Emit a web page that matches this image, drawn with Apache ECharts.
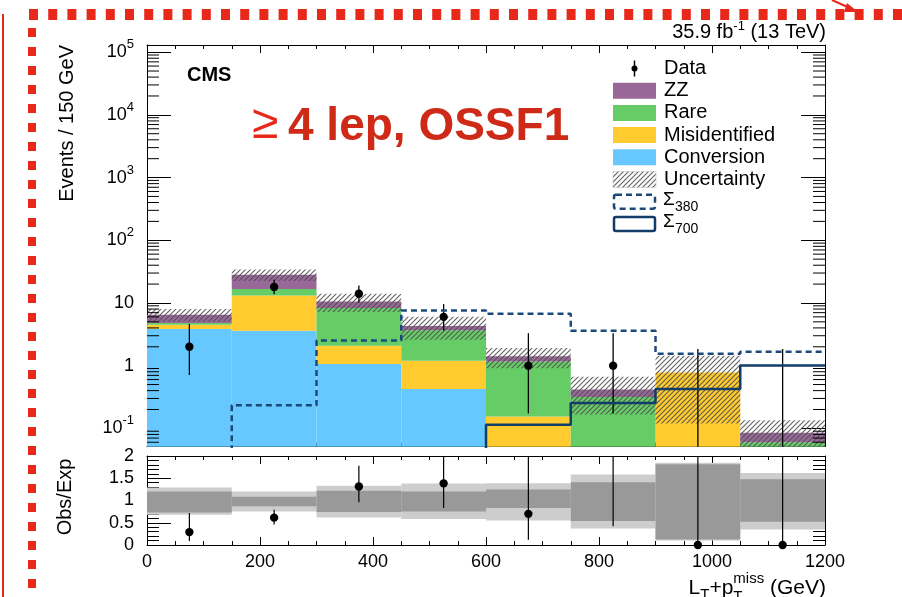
<!DOCTYPE html>
<html><head><meta charset="utf-8">
<script src="https://cdn.jsdelivr.net/npm/echarts@6/dist/echarts.min.js"></script>
<style>html,body{margin:0;padding:0;background:#fff}#c{width:902px;height:597px}</style>
</head><body><div id="c"></div>
<script>
// ---------------- data ----------------
const binEdges = [0, 150, 300, 450, 600, 750, 900, 1050, 1200];
const binCenters = [75, 225, 375, 525, 675, 825, 975, 1125];
const conversion    = [3.85, 3.6, 1.06, 0.425, 0, 0, 0, 0];
const misidentified = [0.65, 9.5, 1.02, 0.775, 0.154, 0, 0.78, 0];
const rare          = [0.3, 3.6, 6.2, 2.46, 1.016, 0.316, 0, 0.06];
const zz            = [1.7, 11.6, 2.3, 0.64, 0.24, 0.1, 0, 0.025];
const uncertainty   = [1.5, 6.0, 3.4, 1.7, 0.5, 0.25, 0.66, 0.05];
const sigma380      = [0, 0.233, 2.53, 7.6, 6.7, 3.6, 1.55, 1.67];
const sigma700      = [0, 0, 0, 0, 0.114, 0.254, 0.425, 1.01];
const dataObs       = [2, 18, 14, 6, 1, 1, 0, 0];
const dataErrLow    = [0.71, 13.8, 10.2, 3.62, 0.173, 0.173, 0, 0];
const dataErrHigh   = [4.64, 23.4, 18.9, 9.58, 3.30, 3.30, 1.84, 1.84];
const ratioObs      = [0.29, 0.615, 1.315, 1.385, 0.70, 2.42, 0, 0];
const ratioErrLow   = [0.09, 0.46, 0.96, 0.83, 0.12, 0.42, 0, 0];
const ratioErrHigh  = [0.72, 0.79, 1.78, 2.2, 2.35, 3.8, 2.36, 21];
const bandLightLow  = [0.68, 0.754, 0.62, 0.585, 0.55, 0.37, 0.10, 0.35];
const bandLightHigh = [1.29, 1.20, 1.33, 1.38, 1.39, 1.585, 1.85, 1.62];
const bandDarkLow   = [0.73, 0.87, 0.74, 0.754, 0.83, 0.54, 0.123, 0.52];
const bandDarkHigh  = [1.20, 1.085, 1.22, 1.20, 1.25, 1.41, 1.815, 1.48];
const xTickValues = [0, 200, 400, 600, 800, 1000, 1200];
const ratioTickLabels = ['0', '0.5', '1', '1.5', '2'];
const legendNames = ['Data', 'ZZ', 'Rare', 'Misidentified', 'Conversion', 'Uncertainty', 'Σ380', 'Σ700'];

// ---------------- styling ----------------
const FONT = '"Liberation Sans", Arial, Helvetica, sans-serif';
const C_ZZ = '#986898', C_RARE = '#66cc66', C_MIS = '#ffcb2f', C_CONV = '#66c8ff';
const C_SIG = '#1b4a7a';
const RED = '#e8281a';
const yMin = 0.051, yMax = 130000;
const clampY = v => Math.min(Math.max(v, yMin), yMax);
const clampR = v => Math.min(Math.max(v, 0), 2);

// hatch pattern
const pc = document.createElement('canvas');
pc.width = 5; pc.height = 5;
const g = pc.getContext('2d');
g.strokeStyle = 'rgba(80,80,80,0.9)'; g.lineWidth = 1.1;
g.beginPath();
g.moveTo(-1, 6); g.lineTo(6, -1);
g.moveTo(-3, 3); g.lineTo(3, -3);
g.moveTo(2, 8); g.lineTo(8, 2);
g.stroke();
const hatch = { image: pc, repeat: 'repeat' };

const chart = echarts.init(document.getElementById('c'), null, { renderer: 'canvas' });

function cumulative(layers, i) { return layers.reduce((s, a) => s + a[i], 0); }

function stackSeries(name, values, below, color) {
  const data = values.map((v, i) => {
    const lo = cumulative(below, i);
    return [binEdges[i], binEdges[i + 1], clampY(lo), clampY(lo + v)];
  });
  return {
    type: 'custom', name, xAxisIndex: 0, yAxisIndex: 0, data, silent: true,
    encode: { x: [0, 1], y: [2, 3] },
    renderItem(params, api) {
      const lo = api.value(2), hi = api.value(3);
      if (!(hi > lo)) return null;
      const p0 = api.coord([api.value(0), lo]);
      const p1 = api.coord([api.value(1), hi]);
      return { type: 'rect', shape: { x: p0[0], y: p1[1], width: p1[0] - p0[0], height: p0[1] - p1[1] },
        style: { fill: color } };
    }
  };
}

const totals = binCenters.map((_, i) => conversion[i] + misidentified[i] + rare[i] + zz[i]);

const hatchSeries = {
  type: 'custom', name: 'Uncertainty', xAxisIndex: 0, yAxisIndex: 0, silent: true,
  data: totals.map((t, i) => [binEdges[i], binEdges[i + 1], clampY(t - uncertainty[i]), clampY(t + uncertainty[i])]),
  encode: { x: [0, 1], y: [2, 3] },
  renderItem(params, api) {
    const p0 = api.coord([api.value(0), api.value(2)]);
    const p1 = api.coord([api.value(1), api.value(3)]);
    return { type: 'rect', shape: { x: p0[0], y: p1[1], width: p1[0] - p0[0], height: p0[1] - p1[1] },
      style: { fill: hatch } };
  }
};

function stepData(vals) {
  const d = vals.map((v, i) => [binEdges[i], v > 0 ? v : 1e-4]);
  d.push([binEdges[binEdges.length - 1], vals[vals.length - 1] > 0 ? vals[vals.length - 1] : 1e-4]);
  return d;
}

const sig380Series = { type: 'line', name: 'Σ380', xAxisIndex: 0, yAxisIndex: 0, step: 'end', showSymbol: false, silent: true,
  data: stepData(sigma380), clip: true, lineStyle: { color: C_SIG, width: 2.5, type: [6, 4] } };
const sig700Series = { type: 'line', name: 'Σ700', xAxisIndex: 0, yAxisIndex: 0, step: 'end', showSymbol: false, silent: true,
  data: stepData(sigma700), clip: true, lineStyle: { color: '#123d6a', width: 2.5 } };

const dataSeries = {
  type: 'custom', name: 'Data', xAxisIndex: 0, yAxisIndex: 0, silent: true,
  data: dataObs.map((v, i) => [binCenters[i], v > 0 ? v : yMin, clampY(dataErrLow[i]), clampY(dataErrHigh[i]), v]),
  encode: { x: 0, y: 1 },
  renderItem(params, api) {
    const x = api.value(0);
    const pl = api.coord([x, api.value(2)]), ph = api.coord([x, api.value(3)]);
    const ch = [{ type: 'line', shape: { x1: pl[0], y1: pl[1], x2: ph[0], y2: ph[1] }, style: { stroke: '#000', lineWidth: 1.3 } }];
    if (api.value(4) > 0) {
      const p = api.coord([x, api.value(1)]);
      ch.push({ type: 'circle', shape: { cx: p[0], cy: p[1], r: 4.2 }, style: { fill: '#000' } });
    }
    return { type: 'group', children: ch };
  }
};

// minor log ticks (2..9 x 10^k)
const minorLogTicks = [];
for (let k = -2; k <= 5; k++) for (let m = 2; m <= 9; m++) { const v = m * Math.pow(10, k); if (v > yMin && v < yMax) minorLogTicks.push(v); }
const minorTickSeries = {
  type: 'custom', xAxisIndex: 0, yAxisIndex: 0, silent: true,
  data: minorLogTicks.map(v => [0, v]), encode: { x: 0, y: 1 },
  renderItem(params, api) {
    const pL = api.coord([0, api.value(1)]), pR = api.coord([1200, api.value(1)]);
    return { type: 'group', children: [
      { type: 'line', shape: { x1: pL[0], y1: pL[1], x2: pL[0] + 12, y2: pL[1] }, style: { stroke: '#000', lineWidth: 1 } },
      { type: 'line', shape: { x1: pR[0] - 12, y1: pR[1], x2: pR[0], y2: pR[1] }, style: { stroke: '#000', lineWidth: 1 } }
    ] };
  }
};

function bandSeries(lo, hi, color) {
  return {
    type: 'custom', xAxisIndex: 2, yAxisIndex: 2, silent: true,
    data: lo.map((v, i) => [binEdges[i], binEdges[i + 1], clampR(v), clampR(hi[i])]),
    encode: { x: [0, 1], y: [2, 3] },
    renderItem(params, api) {
      const p0 = api.coord([api.value(0), api.value(2)]);
      const p1 = api.coord([api.value(1), api.value(3)]);
      return { type: 'rect', shape: { x: p0[0], y: p1[1], width: p1[0] - p0[0], height: p0[1] - p1[1] }, style: { fill: color } };
    }
  };
}

const ratioDataSeries = {
  type: 'custom', xAxisIndex: 2, yAxisIndex: 2, silent: true,
  data: ratioObs.map((v, i) => [binCenters[i], v, clampR(ratioErrLow[i]), clampR(ratioErrHigh[i])]),
  encode: { x: 0, y: 1 },
  renderItem(params, api) {
    const x = api.value(0), v = api.value(1);
    const pl = api.coord([x, api.value(2)]), ph = api.coord([x, api.value(3)]);
    const ch = [{ type: 'line', shape: { x1: pl[0], y1: pl[1], x2: ph[0], y2: ph[1] }, style: { stroke: '#000', lineWidth: 1.2 } }];
    if (v >= 0 && v <= 2) {
      const p = api.coord([x, v]);
      ch.push({ type: 'circle', shape: { cx: p[0], cy: p[1], r: 4.2 }, style: { fill: '#000' } });
    }
    return { type: 'group', children: ch };
  }
};

// ---------------- axes ----------------
const axLine = { show: true, onZero: false, lineStyle: { color: '#000', width: 1 } };
function xAx(grid, pos, labels) {
  return { type: 'value', gridIndex: grid, position: pos, min: 0, max: 1200, interval: 200,
    axisLine: axLine, splitLine: { show: false },
    axisTick: { show: true, inside: true, length: 8, lineStyle: { color: '#000' } },
    minorTick: { show: true, splitNumber: 4, length: 4, lineStyle: { color: '#000' } },
    axisLabel: labels ? { show: true, color: '#000', fontSize: 18, fontFamily: FONT, margin: 8,
      formatter: v => (xTickValues.indexOf(v) >= 0 ? String(v) : '') } : { show: false } };
}
function logLabel(v) {
  const l = Math.log10(v), e = Math.round(l);
  if (Math.abs(l - e) > 1e-6) return '';
  if (e === 0) return '{b|1}';
  if (e === 1) return '{b|10}';
  return '{b|10}{s|' + e + '}';
}
function yLog(pos, labels) {
  return { type: 'log', logBase: 10, gridIndex: 0, position: pos, min: yMin, max: yMax, splitNumber: 6,
    axisLine: axLine, splitLine: { show: false },
    axisTick: { show: true, inside: true, length: 24, lineStyle: { color: '#000' } },
    minorTick: { show: false },
    axisLabel: labels ? { show: true, color: '#000', fontFamily: FONT, margin: 13, formatter: logLabel,
      rich: { b: { fontSize: 18, lineHeight: 28, fontFamily: FONT, color: '#000' },
              s: { fontSize: 13, lineHeight: 13, verticalAlign: 'top', fontFamily: FONT, color: '#000' } } } : { show: false } };
}
function yRatio(pos, labels) {
  return { type: 'value', gridIndex: 1, position: pos, min: 0, max: 2, interval: 0.5,
    axisLine: axLine, splitLine: { show: false },
    axisTick: { show: true, inside: true, length: 24, lineStyle: { color: '#000' } },
    minorTick: { show: true, splitNumber: 5, length: 12, lineStyle: { color: '#000' } },
    axisLabel: labels ? { show: true, color: '#000', fontSize: 18, fontFamily: FONT, margin: 13,
      formatter: v => ratioTickLabels[Math.round(v * 2)] } : { show: false } };
}

// ---------------- graphics (texts, legend, decorations) ----------------
const G = [];
// red annotation frame (decorative)
G.push({ type: 'rect', shape: { x: 2, y: 14, width: 2, height: 583 }, style: { fill: RED }, silent: true });
for (let x = 29; x < 902; x += 19.2) G.push({ type: 'rect', shape: { x: x, y: 9, width: 9, height: 11 }, style: { fill: RED }, silent: true });
for (let y = 28; y < 597; y += 19) G.push({ type: 'rect', shape: { x: 28, y: y, width: 8, height: 9 }, style: { fill: RED }, silent: true });
G.push({ type: 'line', shape: { x1: 832, y1: 0, x2: 852, y2: 9 }, style: { stroke: RED, lineWidth: 2 }, silent: true });
G.push({ type: 'polygon', shape: { points: [[847, 3], [858, 12], [844, 12]] }, style: { fill: RED }, silent: true });

function txt(x, y, text, opt) {
  return Object.assign({ type: 'text', x: x, y: y, silent: true,
    style: Object.assign({ text: text, fontFamily: FONT, fontSize: 20, fill: '#000',
      align: 'left', verticalAlign: 'middle', textAlign: 'left', textVerticalAlign: 'middle' }, opt || {}) });
}
// luminosity label
G.push(txt(826, 32, '35.9 fb{s|-1} (13 TeV)', { align: 'right', textAlign: 'right', fontSize: 20,
  rich: { s: { fontSize: 13, lineHeight: 12, verticalAlign: 'top', fontFamily: FONT } }, lineHeight: 24 }));
// CMS
G.push(txt(187, 75, 'CMS', { fontWeight: 'bold', fontSize: 20 }));
// channel label
G.push(txt(252, 125, '≥', { fill: RED, fontSize: 48 }));
G.push(txt(288, 127, '4 lep, OSSF1', { fill: '#cf2a17', fontSize: 46, fontWeight: 'bold' }));
// axis titles
G.push(Object.assign(txt(67, 45, 'Events / 150 GeV', { align: 'right', textAlign: 'right', fontSize: 20 }), { rotation: Math.PI / 2 }));
G.push(Object.assign(txt(65, 497, 'Obs/Exp', { align: 'center', textAlign: 'center', fontSize: 20 }), { rotation: Math.PI / 2 }));

// x-axis title: L_T + p_T^miss (GeV)
(function () {
  const cv = document.createElement('canvas').getContext('2d');
  const w = (s, f) => { cv.font = f + 'px "Liberation Sans"'; return cv.measureText(s).width; };
  const FS = 21, FSS = 15;
  const parts = [['L', FS], ['T', FSS], ['+p', FS], ['miss', FSS], [' (GeV)', FS]];
  const W = parts.reduce((s, p) => s + w(p[0], p[1]), 0);
  let x = 826 - W;
  const yb = 588;
  G.push(txt(x, yb, 'L', { fontSize: FS })); x += w('L', FS);
  G.push(txt(x, yb + 7, 'T', { fontSize: FSS })); x += w('T', FSS);
  G.push(txt(x, yb, '+p', { fontSize: FS })); x += w('+p', FS);
  G.push(txt(x, yb - 9, 'miss', { fontSize: FSS }));
  G.push(txt(x, yb + 9, 'T', { fontSize: FSS })); x += w('miss', FSS);
  G.push(txt(x, yb, ' (GeV)', { fontSize: FS }));
})();

// legend
const LX = 613, LW = 43, LH = 16, TX = 664, LY0 = 68.5, LDY = 22.2;
const rowY = i => LY0 + i * LDY;
G.push({ type: 'line', shape: { x1: LX + LW / 2, y1: rowY(0) - 8, x2: LX + LW / 2, y2: rowY(0) + 8 }, style: { stroke: '#000', lineWidth: 1.5 }, silent: true });
G.push({ type: 'circle', shape: { cx: LX + LW / 2, cy: rowY(0), r: 3 }, style: { fill: '#000' }, silent: true });
const boxFill = [null, C_ZZ, C_RARE, C_MIS, C_CONV, hatch];
for (let i = 1; i <= 5; i++) {
  G.push({ type: 'rect', shape: { x: LX, y: rowY(i) - LH / 2, width: LW, height: LH },
    style: { fill: boxFill[i], stroke: i === 5 ? '#bbb' : null, lineWidth: 0.5 }, silent: true });
}
G.push({ type: 'rect', shape: { x: LX + 1, y: rowY(6) - LH / 2 + 1, width: LW - 2, height: LH - 2, r: 2 },
  style: { fill: 'none', stroke: C_SIG, lineWidth: 2.5, lineDash: [6, 4] }, silent: true });
G.push({ type: 'rect', shape: { x: LX + 1, y: rowY(7) - LH / 2 + 1, width: LW - 2, height: LH - 2, r: 2 },
  style: { fill: 'none', stroke: '#123d6a', lineWidth: 2.5 }, silent: true });
for (let i = 0; i < 6; i++) G.push(txt(TX, rowY(i), legendNames[i]));
[6, 7].forEach(i => {
  G.push(txt(TX - 1, rowY(i) - 2, legendNames[i].charAt(0), { fontSize: 19 }));
  G.push(txt(TX + 11, rowY(i) + 5, legendNames[i].slice(1), { fontSize: 14 }));
});

chart.setOption({
  animation: false,
  backgroundColor: '#fff',
  textStyle: { fontFamily: FONT },
  grid: [
    { left: 147, top: 45, width: 678, height: 401.7, containLabel: false },
    { left: 147, top: 456, width: 678, height: 89, containLabel: false }
  ],
  xAxis: [xAx(0, 'bottom', false), xAx(0, 'top', false), xAx(1, 'bottom', true), xAx(1, 'top', false)],
  yAxis: [yLog('left', true), yLog('right', false), yRatio('left', true), yRatio('right', false)],
  series: [
    stackSeries('Conversion', conversion, [], C_CONV),
    stackSeries('Misidentified', misidentified, [conversion], C_MIS),
    stackSeries('Rare', rare, [conversion, misidentified], C_RARE),
    stackSeries('ZZ', zz, [conversion, misidentified, rare], C_ZZ),
    hatchSeries,
    sig380Series,
    sig700Series,
    minorTickSeries,
    dataSeries,
    bandSeries(bandLightLow, bandLightHigh, '#cdcdcd'),
    bandSeries(bandDarkLow, bandDarkHigh, '#999999'),
    ratioDataSeries
  ],
  graphic: { elements: G }
});
</script></body></html>
